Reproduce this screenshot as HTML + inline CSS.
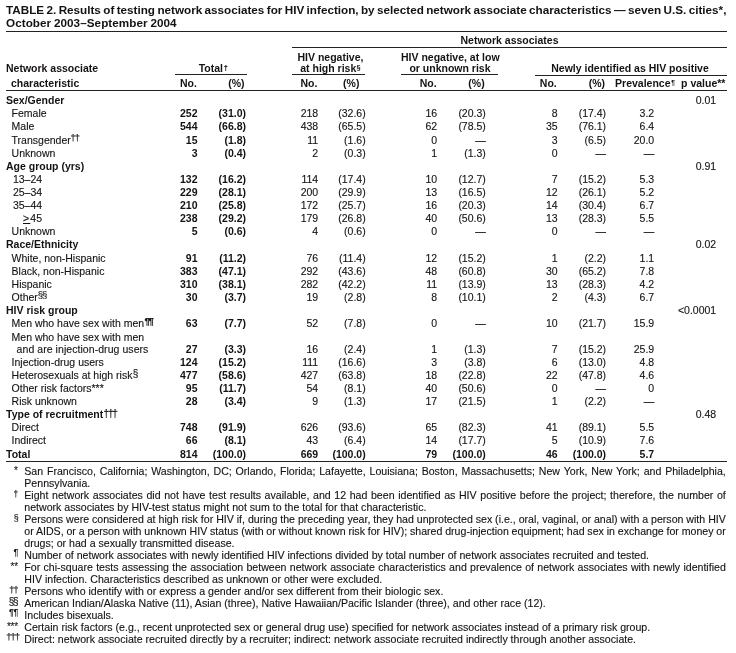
<!DOCTYPE html>
<html><head><meta charset="utf-8"><title>TABLE 2</title>
<style>
html,body{margin:0;padding:0;background:#fff;}
body{width:736px;height:653px;position:relative;overflow:hidden;font-family:"Liberation Sans",sans-serif;color:#151213;-webkit-text-stroke:0.12px #151213;}
.t{position:absolute;white-space:nowrap;line-height:12.0px;font-size:10.5px;}
.j{text-align:justify;text-align-last:justify;white-space:normal;word-spacing:-1.2px;height:12px;overflow:hidden;}
.r{position:absolute;}
#w{position:absolute;left:0;top:0;width:736px;height:653px;will-change:transform;}
</style></head><body><div id="w">
<span class="t" style="top:3.65px;font-size:11.7px;left:6.00px;font-weight:bold;-webkit-text-stroke:0;word-spacing:-0.85px;">TABLE 2. Results of testing network associates for HIV infection, by selected network associate characteristics — seven U.S. cities*,</span>
<span class="t" style="top:16.65px;font-size:11.7px;left:6.00px;font-weight:bold;-webkit-text-stroke:0;letter-spacing:0.06px;word-spacing:-0.6px;">October 2003–September 2004</span>
<div class="r" style="left:6.00px;top:31.00px;width:721.00px;height:1.0px;background:#222"></div>
<div class="r" style="left:292.00px;top:47.00px;width:435.00px;height:1.0px;background:#222"></div>
<div class="r" style="left:175.00px;top:74.00px;width:72.00px;height:1.0px;background:#222"></div>
<div class="r" style="left:292.00px;top:74.00px;width:73.00px;height:1.0px;background:#222"></div>
<div class="r" style="left:401.00px;top:74.00px;width:96.50px;height:1.0px;background:#222"></div>
<div class="r" style="left:535.00px;top:75.00px;width:192.00px;height:1.0px;background:#222"></div>
<div class="r" style="left:6.00px;top:90.00px;width:721.00px;height:1.0px;background:#222"></div>
<div class="r" style="left:6.00px;top:461.00px;width:721.00px;height:1.0px;background:#222"></div>
<span class="t" style="top:34.26px;font-size:10.5px;left:309.50px;width:400px;text-align:center;font-weight:bold;-webkit-text-stroke:0;">Network associates</span>
<span class="t" style="top:62.06px;font-size:10.5px;left:6.00px;font-weight:bold;-webkit-text-stroke:0;">Network associate</span>
<span class="t" style="top:76.66px;font-size:10.5px;left:11.00px;font-weight:bold;-webkit-text-stroke:0;">characteristic</span>
<span class="t" style="top:62.46px;font-size:10.5px;left:13.30px;width:400px;text-align:center;font-weight:bold;-webkit-text-stroke:0;">Total<span style="font-size:7.2px;position:relative;top:-2.2px;letter-spacing:0px;margin-left:0.8px;font-weight:bold;-webkit-text-stroke:0.18px #1c1c1c;">†</span></span>
<span class="t" style="top:50.76px;font-size:10.5px;left:130.50px;width:400px;text-align:center;font-weight:bold;-webkit-text-stroke:0;">HIV negative,</span>
<span class="t" style="top:62.46px;font-size:10.5px;left:130.50px;width:400px;text-align:center;font-weight:bold;-webkit-text-stroke:0;">at high risk<span style="font-size:7.4px;position:relative;top:-2.2px;letter-spacing:0px;margin-left:0.3px;font-weight:bold;">§</span></span>
<span class="t" style="top:50.76px;font-size:10.5px;left:250.30px;width:400px;text-align:center;font-weight:bold;-webkit-text-stroke:0;">HIV negative, at low</span>
<span class="t" style="top:62.46px;font-size:10.5px;left:250.00px;width:400px;text-align:center;font-weight:bold;-webkit-text-stroke:0;">or unknown risk</span>
<span class="t" style="top:62.46px;font-size:10.5px;left:430.00px;width:400px;text-align:center;font-weight:bold;-webkit-text-stroke:0;">Newly identified as HIV positive</span>
<span class="t" style="top:77.36px;font-size:10.5px;left:180.00px;font-weight:bold;-webkit-text-stroke:0;">No.</span>
<span class="t" style="top:77.36px;font-size:10.5px;right:491.50px;font-weight:bold;-webkit-text-stroke:0;">(%)</span>
<span class="t" style="top:77.36px;font-size:10.5px;left:300.40px;font-weight:bold;-webkit-text-stroke:0;">No.</span>
<span class="t" style="top:77.36px;font-size:10.5px;right:376.60px;font-weight:bold;-webkit-text-stroke:0;">(%)</span>
<span class="t" style="top:77.36px;font-size:10.5px;left:419.70px;font-weight:bold;-webkit-text-stroke:0;">No.</span>
<span class="t" style="top:77.36px;font-size:10.5px;right:251.30px;font-weight:bold;-webkit-text-stroke:0;">(%)</span>
<span class="t" style="top:77.36px;font-size:10.5px;left:539.80px;font-weight:bold;-webkit-text-stroke:0;">No.</span>
<span class="t" style="top:77.36px;font-size:10.5px;right:131.00px;font-weight:bold;-webkit-text-stroke:0;">(%)</span>
<span class="t" style="top:77.36px;font-size:10.5px;left:615.10px;font-weight:bold;-webkit-text-stroke:0;">Prevalence<span style="font-size:6.5px;position:relative;top:-2.6px;letter-spacing:0px;margin-left:0.8px;font-weight:bold;">¶</span></span>
<span class="t" style="top:77.36px;font-size:10.5px;right:10.60px;font-weight:bold;-webkit-text-stroke:0;">p value**</span>
<span class="t" style="top:94.36px;font-size:10.5px;left:6.00px;font-weight:bold;-webkit-text-stroke:0;">Sex/Gender</span>
<span class="t" style="top:94.36px;font-size:10.5px;right:19.80px;">0.01</span>
<span class="t" style="top:107.26px;font-size:10.5px;left:11.60px;">Female</span>
<span class="t" style="top:107.26px;font-size:10.5px;right:538.50px;font-weight:bold;-webkit-text-stroke:0;">252</span>
<span class="t" style="top:107.26px;font-size:10.5px;right:490.00px;font-weight:bold;-webkit-text-stroke:0;">(31.0)</span>
<span class="t" style="top:107.26px;font-size:10.5px;right:417.80px;">218</span>
<span class="t" style="top:107.26px;font-size:10.5px;right:370.30px;">(32.6)</span>
<span class="t" style="top:107.26px;font-size:10.5px;right:298.80px;">16</span>
<span class="t" style="top:107.26px;font-size:10.5px;right:250.20px;">(20.3)</span>
<span class="t" style="top:107.26px;font-size:10.5px;right:178.40px;">8</span>
<span class="t" style="top:107.26px;font-size:10.5px;right:129.90px;">(17.4)</span>
<span class="t" style="top:107.26px;font-size:10.5px;right:81.80px;">3.2</span>
<span class="t" style="top:120.26px;font-size:10.5px;left:11.60px;">Male</span>
<span class="t" style="top:120.26px;font-size:10.5px;right:538.50px;font-weight:bold;-webkit-text-stroke:0;">544</span>
<span class="t" style="top:120.26px;font-size:10.5px;right:490.00px;font-weight:bold;-webkit-text-stroke:0;">(66.8)</span>
<span class="t" style="top:120.26px;font-size:10.5px;right:417.80px;">438</span>
<span class="t" style="top:120.26px;font-size:10.5px;right:370.30px;">(65.5)</span>
<span class="t" style="top:120.26px;font-size:10.5px;right:298.80px;">62</span>
<span class="t" style="top:120.26px;font-size:10.5px;right:250.20px;">(78.5)</span>
<span class="t" style="top:120.26px;font-size:10.5px;right:178.40px;">35</span>
<span class="t" style="top:120.26px;font-size:10.5px;right:129.90px;">(76.1)</span>
<span class="t" style="top:120.26px;font-size:10.5px;right:81.80px;">6.4</span>
<span class="t" style="top:133.76px;font-size:10.5px;left:11.60px;">Transgender<span style="font-size:9.3px;position:relative;top:-2.3px;letter-spacing:-0.8px;margin-left:-0.3px;font-weight:normal;-webkit-text-stroke:0.18px #1c1c1c;">††</span></span>
<span class="t" style="top:133.76px;font-size:10.5px;right:538.50px;font-weight:bold;-webkit-text-stroke:0;">15</span>
<span class="t" style="top:133.76px;font-size:10.5px;right:490.00px;font-weight:bold;-webkit-text-stroke:0;">(1.8)</span>
<span class="t" style="top:133.76px;font-size:10.5px;right:417.80px;">11</span>
<span class="t" style="top:133.76px;font-size:10.5px;right:370.30px;">(1.6)</span>
<span class="t" style="top:133.76px;font-size:10.5px;right:298.80px;">0</span>
<span class="t" style="top:133.76px;font-size:10.5px;right:250.20px;">—</span>
<span class="t" style="top:133.76px;font-size:10.5px;right:178.40px;">3</span>
<span class="t" style="top:133.76px;font-size:10.5px;right:129.90px;">(6.5)</span>
<span class="t" style="top:133.76px;font-size:10.5px;right:81.80px;">20.0</span>
<span class="t" style="top:146.56px;font-size:10.5px;left:11.60px;">Unknown</span>
<span class="t" style="top:146.56px;font-size:10.5px;right:538.50px;font-weight:bold;-webkit-text-stroke:0;">3</span>
<span class="t" style="top:146.56px;font-size:10.5px;right:490.00px;font-weight:bold;-webkit-text-stroke:0;">(0.4)</span>
<span class="t" style="top:146.56px;font-size:10.5px;right:417.80px;">2</span>
<span class="t" style="top:146.56px;font-size:10.5px;right:370.30px;">(0.3)</span>
<span class="t" style="top:146.56px;font-size:10.5px;right:298.80px;">1</span>
<span class="t" style="top:146.56px;font-size:10.5px;right:250.20px;">(1.3)</span>
<span class="t" style="top:146.56px;font-size:10.5px;right:178.40px;">0</span>
<span class="t" style="top:146.56px;font-size:10.5px;right:129.90px;">—</span>
<span class="t" style="top:146.56px;font-size:10.5px;right:81.80px;">—</span>
<span class="t" style="top:159.76px;font-size:10.5px;left:6.00px;font-weight:bold;-webkit-text-stroke:0;">Age group (yrs)</span>
<span class="t" style="top:159.76px;font-size:10.5px;right:19.80px;">0.91</span>
<span class="t" style="top:172.96px;font-size:10.5px;left:12.90px;">13–24</span>
<span class="t" style="top:172.96px;font-size:10.5px;right:538.50px;font-weight:bold;-webkit-text-stroke:0;">132</span>
<span class="t" style="top:172.96px;font-size:10.5px;right:490.00px;font-weight:bold;-webkit-text-stroke:0;">(16.2)</span>
<span class="t" style="top:172.96px;font-size:10.5px;right:417.80px;">114</span>
<span class="t" style="top:172.96px;font-size:10.5px;right:370.30px;">(17.4)</span>
<span class="t" style="top:172.96px;font-size:10.5px;right:298.80px;">10</span>
<span class="t" style="top:172.96px;font-size:10.5px;right:250.20px;">(12.7)</span>
<span class="t" style="top:172.96px;font-size:10.5px;right:178.40px;">7</span>
<span class="t" style="top:172.96px;font-size:10.5px;right:129.90px;">(15.2)</span>
<span class="t" style="top:172.96px;font-size:10.5px;right:81.80px;">5.3</span>
<span class="t" style="top:186.06px;font-size:10.5px;left:12.90px;">25–34</span>
<span class="t" style="top:186.06px;font-size:10.5px;right:538.50px;font-weight:bold;-webkit-text-stroke:0;">229</span>
<span class="t" style="top:186.06px;font-size:10.5px;right:490.00px;font-weight:bold;-webkit-text-stroke:0;">(28.1)</span>
<span class="t" style="top:186.06px;font-size:10.5px;right:417.80px;">200</span>
<span class="t" style="top:186.06px;font-size:10.5px;right:370.30px;">(29.9)</span>
<span class="t" style="top:186.06px;font-size:10.5px;right:298.80px;">13</span>
<span class="t" style="top:186.06px;font-size:10.5px;right:250.20px;">(16.5)</span>
<span class="t" style="top:186.06px;font-size:10.5px;right:178.40px;">12</span>
<span class="t" style="top:186.06px;font-size:10.5px;right:129.90px;">(26.1)</span>
<span class="t" style="top:186.06px;font-size:10.5px;right:81.80px;">5.2</span>
<span class="t" style="top:199.16px;font-size:10.5px;left:12.90px;">35–44</span>
<span class="t" style="top:199.16px;font-size:10.5px;right:538.50px;font-weight:bold;-webkit-text-stroke:0;">210</span>
<span class="t" style="top:199.16px;font-size:10.5px;right:490.00px;font-weight:bold;-webkit-text-stroke:0;">(25.8)</span>
<span class="t" style="top:199.16px;font-size:10.5px;right:417.80px;">172</span>
<span class="t" style="top:199.16px;font-size:10.5px;right:370.30px;">(25.7)</span>
<span class="t" style="top:199.16px;font-size:10.5px;right:298.80px;">16</span>
<span class="t" style="top:199.16px;font-size:10.5px;right:250.20px;">(20.3)</span>
<span class="t" style="top:199.16px;font-size:10.5px;right:178.40px;">14</span>
<span class="t" style="top:199.16px;font-size:10.5px;right:129.90px;">(30.4)</span>
<span class="t" style="top:199.16px;font-size:10.5px;right:81.80px;">6.7</span>
<span class="t" style="top:212.26px;font-size:10.5px;left:23.00px;"><span style="text-decoration:underline;letter-spacing:1.2px">&gt;</span>45</span>
<span class="t" style="top:212.26px;font-size:10.5px;right:538.50px;font-weight:bold;-webkit-text-stroke:0;">238</span>
<span class="t" style="top:212.26px;font-size:10.5px;right:490.00px;font-weight:bold;-webkit-text-stroke:0;">(29.2)</span>
<span class="t" style="top:212.26px;font-size:10.5px;right:417.80px;">179</span>
<span class="t" style="top:212.26px;font-size:10.5px;right:370.30px;">(26.8)</span>
<span class="t" style="top:212.26px;font-size:10.5px;right:298.80px;">40</span>
<span class="t" style="top:212.26px;font-size:10.5px;right:250.20px;">(50.6)</span>
<span class="t" style="top:212.26px;font-size:10.5px;right:178.40px;">13</span>
<span class="t" style="top:212.26px;font-size:10.5px;right:129.90px;">(28.3)</span>
<span class="t" style="top:212.26px;font-size:10.5px;right:81.80px;">5.5</span>
<span class="t" style="top:225.36px;font-size:10.5px;left:11.60px;">Unknown</span>
<span class="t" style="top:225.36px;font-size:10.5px;right:538.50px;font-weight:bold;-webkit-text-stroke:0;">5</span>
<span class="t" style="top:225.36px;font-size:10.5px;right:490.00px;font-weight:bold;-webkit-text-stroke:0;">(0.6)</span>
<span class="t" style="top:225.36px;font-size:10.5px;right:417.80px;">4</span>
<span class="t" style="top:225.36px;font-size:10.5px;right:370.30px;">(0.6)</span>
<span class="t" style="top:225.36px;font-size:10.5px;right:298.80px;">0</span>
<span class="t" style="top:225.36px;font-size:10.5px;right:250.20px;">—</span>
<span class="t" style="top:225.36px;font-size:10.5px;right:178.40px;">0</span>
<span class="t" style="top:225.36px;font-size:10.5px;right:129.90px;">—</span>
<span class="t" style="top:225.36px;font-size:10.5px;right:81.80px;">—</span>
<span class="t" style="top:238.46px;font-size:10.5px;left:6.00px;font-weight:bold;-webkit-text-stroke:0;">Race/Ethnicity</span>
<span class="t" style="top:238.46px;font-size:10.5px;right:19.80px;">0.02</span>
<span class="t" style="top:251.56px;font-size:10.5px;left:11.60px;">White, non-Hispanic</span>
<span class="t" style="top:251.56px;font-size:10.5px;right:538.50px;font-weight:bold;-webkit-text-stroke:0;">91</span>
<span class="t" style="top:251.56px;font-size:10.5px;right:490.00px;font-weight:bold;-webkit-text-stroke:0;">(11.2)</span>
<span class="t" style="top:251.56px;font-size:10.5px;right:417.80px;">76</span>
<span class="t" style="top:251.56px;font-size:10.5px;right:370.30px;">(11.4)</span>
<span class="t" style="top:251.56px;font-size:10.5px;right:298.80px;">12</span>
<span class="t" style="top:251.56px;font-size:10.5px;right:250.20px;">(15.2)</span>
<span class="t" style="top:251.56px;font-size:10.5px;right:178.40px;">1</span>
<span class="t" style="top:251.56px;font-size:10.5px;right:129.90px;">(2.2)</span>
<span class="t" style="top:251.56px;font-size:10.5px;right:81.80px;">1.1</span>
<span class="t" style="top:264.66px;font-size:10.5px;left:11.60px;">Black, non-Hispanic</span>
<span class="t" style="top:264.66px;font-size:10.5px;right:538.50px;font-weight:bold;-webkit-text-stroke:0;">383</span>
<span class="t" style="top:264.66px;font-size:10.5px;right:490.00px;font-weight:bold;-webkit-text-stroke:0;">(47.1)</span>
<span class="t" style="top:264.66px;font-size:10.5px;right:417.80px;">292</span>
<span class="t" style="top:264.66px;font-size:10.5px;right:370.30px;">(43.6)</span>
<span class="t" style="top:264.66px;font-size:10.5px;right:298.80px;">48</span>
<span class="t" style="top:264.66px;font-size:10.5px;right:250.20px;">(60.8)</span>
<span class="t" style="top:264.66px;font-size:10.5px;right:178.40px;">30</span>
<span class="t" style="top:264.66px;font-size:10.5px;right:129.90px;">(65.2)</span>
<span class="t" style="top:264.66px;font-size:10.5px;right:81.80px;">7.8</span>
<span class="t" style="top:277.76px;font-size:10.5px;left:11.60px;">Hispanic</span>
<span class="t" style="top:277.76px;font-size:10.5px;right:538.50px;font-weight:bold;-webkit-text-stroke:0;">310</span>
<span class="t" style="top:277.76px;font-size:10.5px;right:490.00px;font-weight:bold;-webkit-text-stroke:0;">(38.1)</span>
<span class="t" style="top:277.76px;font-size:10.5px;right:417.80px;">282</span>
<span class="t" style="top:277.76px;font-size:10.5px;right:370.30px;">(42.2)</span>
<span class="t" style="top:277.76px;font-size:10.5px;right:298.80px;">11</span>
<span class="t" style="top:277.76px;font-size:10.5px;right:250.20px;">(13.9)</span>
<span class="t" style="top:277.76px;font-size:10.5px;right:178.40px;">13</span>
<span class="t" style="top:277.76px;font-size:10.5px;right:129.90px;">(28.3)</span>
<span class="t" style="top:277.76px;font-size:10.5px;right:81.80px;">4.2</span>
<span class="t" style="top:290.86px;font-size:10.5px;left:11.60px;">Other<span style="font-size:9.5px;position:relative;top:-2.4px;letter-spacing:-1.2px;margin-left:0px;font-weight:normal;">§§</span></span>
<span class="t" style="top:290.86px;font-size:10.5px;right:538.50px;font-weight:bold;-webkit-text-stroke:0;">30</span>
<span class="t" style="top:290.86px;font-size:10.5px;right:490.00px;font-weight:bold;-webkit-text-stroke:0;">(3.7)</span>
<span class="t" style="top:290.86px;font-size:10.5px;right:417.80px;">19</span>
<span class="t" style="top:290.86px;font-size:10.5px;right:370.30px;">(2.8)</span>
<span class="t" style="top:290.86px;font-size:10.5px;right:298.80px;">8</span>
<span class="t" style="top:290.86px;font-size:10.5px;right:250.20px;">(10.1)</span>
<span class="t" style="top:290.86px;font-size:10.5px;right:178.40px;">2</span>
<span class="t" style="top:290.86px;font-size:10.5px;right:129.90px;">(4.3)</span>
<span class="t" style="top:290.86px;font-size:10.5px;right:81.80px;">6.7</span>
<span class="t" style="top:304.06px;font-size:10.5px;left:6.00px;font-weight:bold;-webkit-text-stroke:0;">HIV risk group</span>
<span class="t" style="top:304.06px;font-size:10.5px;right:19.80px;">&lt;0.0001</span>
<span class="t" style="top:317.16px;font-size:10.5px;left:11.60px;">Men who have sex with men<span style="font-size:9.8px;position:relative;top:-3.0px;letter-spacing:-1.3px;margin-left:0.3px;font-weight:bold;">¶¶</span></span>
<span class="t" style="top:317.16px;font-size:10.5px;right:538.50px;font-weight:bold;-webkit-text-stroke:0;">63</span>
<span class="t" style="top:317.16px;font-size:10.5px;right:490.00px;font-weight:bold;-webkit-text-stroke:0;">(7.7)</span>
<span class="t" style="top:317.16px;font-size:10.5px;right:417.80px;">52</span>
<span class="t" style="top:317.16px;font-size:10.5px;right:370.30px;">(7.8)</span>
<span class="t" style="top:317.16px;font-size:10.5px;right:298.80px;">0</span>
<span class="t" style="top:317.16px;font-size:10.5px;right:250.20px;">—</span>
<span class="t" style="top:317.16px;font-size:10.5px;right:178.40px;">10</span>
<span class="t" style="top:317.16px;font-size:10.5px;right:129.90px;">(21.7)</span>
<span class="t" style="top:317.16px;font-size:10.5px;right:81.80px;">15.9</span>
<span class="t" style="top:331.36px;font-size:10.5px;left:11.60px;">Men who have sex with men</span>
<span class="t" style="top:343.16px;font-size:10.5px;left:16.60px;letter-spacing:0.06px;">and are injection-drug users</span>
<span class="t" style="top:343.16px;font-size:10.5px;right:538.50px;font-weight:bold;-webkit-text-stroke:0;">27</span>
<span class="t" style="top:343.16px;font-size:10.5px;right:490.00px;font-weight:bold;-webkit-text-stroke:0;">(3.3)</span>
<span class="t" style="top:343.16px;font-size:10.5px;right:417.80px;">16</span>
<span class="t" style="top:343.16px;font-size:10.5px;right:370.30px;">(2.4)</span>
<span class="t" style="top:343.16px;font-size:10.5px;right:298.80px;">1</span>
<span class="t" style="top:343.16px;font-size:10.5px;right:250.20px;">(1.3)</span>
<span class="t" style="top:343.16px;font-size:10.5px;right:178.40px;">7</span>
<span class="t" style="top:343.16px;font-size:10.5px;right:129.90px;">(15.2)</span>
<span class="t" style="top:343.16px;font-size:10.5px;right:81.80px;">25.9</span>
<span class="t" style="top:355.86px;font-size:10.5px;left:11.60px;">Injection-drug users</span>
<span class="t" style="top:355.86px;font-size:10.5px;right:538.50px;font-weight:bold;-webkit-text-stroke:0;">124</span>
<span class="t" style="top:355.86px;font-size:10.5px;right:490.00px;font-weight:bold;-webkit-text-stroke:0;">(15.2)</span>
<span class="t" style="top:355.86px;font-size:10.5px;right:417.80px;">111</span>
<span class="t" style="top:355.86px;font-size:10.5px;right:370.30px;">(16.6)</span>
<span class="t" style="top:355.86px;font-size:10.5px;right:298.80px;">3</span>
<span class="t" style="top:355.86px;font-size:10.5px;right:250.20px;">(3.8)</span>
<span class="t" style="top:355.86px;font-size:10.5px;right:178.40px;">6</span>
<span class="t" style="top:355.86px;font-size:10.5px;right:129.90px;">(13.0)</span>
<span class="t" style="top:355.86px;font-size:10.5px;right:81.80px;">4.8</span>
<span class="t" style="top:368.86px;font-size:10.5px;left:11.60px;">Heterosexuals at high risk<span style="font-size:10px;position:relative;top:-2.1px;letter-spacing:0px;margin-left:0.3px;font-weight:normal;">§</span></span>
<span class="t" style="top:368.86px;font-size:10.5px;right:538.50px;font-weight:bold;-webkit-text-stroke:0;">477</span>
<span class="t" style="top:368.86px;font-size:10.5px;right:490.00px;font-weight:bold;-webkit-text-stroke:0;">(58.6)</span>
<span class="t" style="top:368.86px;font-size:10.5px;right:417.80px;">427</span>
<span class="t" style="top:368.86px;font-size:10.5px;right:370.30px;">(63.8)</span>
<span class="t" style="top:368.86px;font-size:10.5px;right:298.80px;">18</span>
<span class="t" style="top:368.86px;font-size:10.5px;right:250.20px;">(22.8)</span>
<span class="t" style="top:368.86px;font-size:10.5px;right:178.40px;">22</span>
<span class="t" style="top:368.86px;font-size:10.5px;right:129.90px;">(47.8)</span>
<span class="t" style="top:368.86px;font-size:10.5px;right:81.80px;">4.6</span>
<span class="t" style="top:381.86px;font-size:10.5px;left:11.60px;">Other risk factors***</span>
<span class="t" style="top:381.86px;font-size:10.5px;right:538.50px;font-weight:bold;-webkit-text-stroke:0;">95</span>
<span class="t" style="top:381.86px;font-size:10.5px;right:490.00px;font-weight:bold;-webkit-text-stroke:0;">(11.7)</span>
<span class="t" style="top:381.86px;font-size:10.5px;right:417.80px;">54</span>
<span class="t" style="top:381.86px;font-size:10.5px;right:370.30px;">(8.1)</span>
<span class="t" style="top:381.86px;font-size:10.5px;right:298.80px;">40</span>
<span class="t" style="top:381.86px;font-size:10.5px;right:250.20px;">(50.6)</span>
<span class="t" style="top:381.86px;font-size:10.5px;right:178.40px;">0</span>
<span class="t" style="top:381.86px;font-size:10.5px;right:129.90px;">—</span>
<span class="t" style="top:381.86px;font-size:10.5px;right:81.80px;">0</span>
<span class="t" style="top:394.86px;font-size:10.5px;left:11.60px;">Risk unknown</span>
<span class="t" style="top:394.86px;font-size:10.5px;right:538.50px;font-weight:bold;-webkit-text-stroke:0;">28</span>
<span class="t" style="top:394.86px;font-size:10.5px;right:490.00px;font-weight:bold;-webkit-text-stroke:0;">(3.4)</span>
<span class="t" style="top:394.86px;font-size:10.5px;right:417.80px;">9</span>
<span class="t" style="top:394.86px;font-size:10.5px;right:370.30px;">(1.3)</span>
<span class="t" style="top:394.86px;font-size:10.5px;right:298.80px;">17</span>
<span class="t" style="top:394.86px;font-size:10.5px;right:250.20px;">(21.5)</span>
<span class="t" style="top:394.86px;font-size:10.5px;right:178.40px;">1</span>
<span class="t" style="top:394.86px;font-size:10.5px;right:129.90px;">(2.2)</span>
<span class="t" style="top:394.86px;font-size:10.5px;right:81.80px;">—</span>
<span class="t" style="top:407.96px;font-size:10.5px;left:6.00px;font-weight:bold;-webkit-text-stroke:0;">Type of recruitment<span style="font-size:10px;position:relative;top:-1.0px;letter-spacing:-1.2px;margin-left:0.3px;font-weight:normal;-webkit-text-stroke:0.18px #1c1c1c;">†††</span></span>
<span class="t" style="top:407.96px;font-size:10.5px;right:19.80px;">0.48</span>
<span class="t" style="top:421.06px;font-size:10.5px;left:11.60px;">Direct</span>
<span class="t" style="top:421.06px;font-size:10.5px;right:538.50px;font-weight:bold;-webkit-text-stroke:0;">748</span>
<span class="t" style="top:421.06px;font-size:10.5px;right:490.00px;font-weight:bold;-webkit-text-stroke:0;">(91.9)</span>
<span class="t" style="top:421.06px;font-size:10.5px;right:417.80px;">626</span>
<span class="t" style="top:421.06px;font-size:10.5px;right:370.30px;">(93.6)</span>
<span class="t" style="top:421.06px;font-size:10.5px;right:298.80px;">65</span>
<span class="t" style="top:421.06px;font-size:10.5px;right:250.20px;">(82.3)</span>
<span class="t" style="top:421.06px;font-size:10.5px;right:178.40px;">41</span>
<span class="t" style="top:421.06px;font-size:10.5px;right:129.90px;">(89.1)</span>
<span class="t" style="top:421.06px;font-size:10.5px;right:81.80px;">5.5</span>
<span class="t" style="top:434.16px;font-size:10.5px;left:11.60px;">Indirect</span>
<span class="t" style="top:434.16px;font-size:10.5px;right:538.50px;font-weight:bold;-webkit-text-stroke:0;">66</span>
<span class="t" style="top:434.16px;font-size:10.5px;right:490.00px;font-weight:bold;-webkit-text-stroke:0;">(8.1)</span>
<span class="t" style="top:434.16px;font-size:10.5px;right:417.80px;">43</span>
<span class="t" style="top:434.16px;font-size:10.5px;right:370.30px;">(6.4)</span>
<span class="t" style="top:434.16px;font-size:10.5px;right:298.80px;">14</span>
<span class="t" style="top:434.16px;font-size:10.5px;right:250.20px;">(17.7)</span>
<span class="t" style="top:434.16px;font-size:10.5px;right:178.40px;">5</span>
<span class="t" style="top:434.16px;font-size:10.5px;right:129.90px;">(10.9)</span>
<span class="t" style="top:434.16px;font-size:10.5px;right:81.80px;">7.6</span>
<span class="t" style="top:447.56px;font-size:10.5px;left:6.00px;font-weight:bold;-webkit-text-stroke:0;">Total</span>
<span class="t" style="top:447.56px;font-size:10.5px;right:538.50px;font-weight:bold;-webkit-text-stroke:0;">814</span>
<span class="t" style="top:447.56px;font-size:10.5px;right:490.00px;font-weight:bold;-webkit-text-stroke:0;">(100.0)</span>
<span class="t" style="top:447.56px;font-size:10.5px;right:417.80px;font-weight:bold;-webkit-text-stroke:0;">669</span>
<span class="t" style="top:447.56px;font-size:10.5px;right:370.30px;font-weight:bold;-webkit-text-stroke:0;">(100.0)</span>
<span class="t" style="top:447.56px;font-size:10.5px;right:298.80px;font-weight:bold;-webkit-text-stroke:0;">79</span>
<span class="t" style="top:447.56px;font-size:10.5px;right:250.20px;font-weight:bold;-webkit-text-stroke:0;">(100.0)</span>
<span class="t" style="top:447.56px;font-size:10.5px;right:178.40px;font-weight:bold;-webkit-text-stroke:0;">46</span>
<span class="t" style="top:447.56px;font-size:10.5px;right:129.90px;font-weight:bold;-webkit-text-stroke:0;">(100.0)</span>
<span class="t" style="top:447.56px;font-size:10.5px;right:81.80px;font-weight:bold;-webkit-text-stroke:0;">5.7</span>
<span class="t" style="top:464.94px;font-size:10.0px;right:718.00px;">*</span>
<div class="t j" style="top:464.73px;left:24.3px;width:701.50px;font-size:10.6px">San Francisco, California; Washington, DC; Orlando, Florida; Lafayette, Louisiana; Boston, Massachusetts; New York, New York; and Philadelphia,</div>
<span class="t" style="top:476.83px;font-size:10.6px;left:24.30px;">Pennsylvania.</span>
<span class="t" style="top:487.62px;font-size:8.3px;right:717.80px;-webkit-text-stroke:0.18px #1c1c1c;">†</span>
<div class="t j" style="top:488.93px;left:24.3px;width:701.50px;font-size:10.6px">Eight network associates did not have test results available, and 12 had been identified as HIV positive before the project; therefore, the number of</div>
<span class="t" style="top:501.03px;font-size:10.6px;left:24.30px;">network associates by HIV-test status might not sum to the total for that characteristic.</span>
<span class="t" style="top:512.22px;font-size:8.9px;right:717.40px;">§</span>
<div class="t j" style="top:513.03px;left:24.3px;width:701.50px;font-size:10.6px">Persons were considered at high risk for HIV if, during the preceding year, they had unprotected sex (i.e., oral, vaginal, or anal) with a person with HIV</div>
<div class="t j" style="top:525.03px;left:24.3px;width:701.50px;font-size:10.6px">or AIDS, or a person with unknown HIV status (with or without known risk for HIV); shared drug-injection equipment; had sex in exchange for money or</div>
<span class="t" style="top:537.03px;font-size:10.6px;left:24.30px;">drugs; or had a sexually transmitted disease.</span>
<span class="t" style="top:546.25px;font-size:8.8px;right:717.60px;font-weight:bold;-webkit-text-stroke:0;">¶</span>
<span class="t" style="top:549.03px;font-size:10.6px;left:24.30px;">Number of network associates with newly identified HIV infections divided by total number of network associates recruited and tested.</span>
<span class="t" style="top:561.34px;font-size:10.0px;right:717.80px;">**</span>
<div class="t j" style="top:561.13px;left:24.3px;width:701.50px;font-size:10.6px">For chi-square tests assessing the association between network associate characteristics and prevalence of network associates with newly identified</div>
<span class="t" style="top:573.23px;font-size:10.6px;left:24.30px;">HIV infection. Characteristics described as unknown or other were excluded.</span>
<span class="t" style="top:583.95px;font-size:9.1px;right:718.40px;letter-spacing:-0.85px;-webkit-text-stroke:0.18px #1c1c1c;">††</span>
<span class="t" style="top:585.23px;font-size:10.6px;left:24.30px;">Persons who identify with or express a gender and/or sex different from their biologic sex.</span>
<span class="t" style="top:595.73px;font-size:10.0px;right:718.70px;letter-spacing:-1.25px;">§§</span>
<span class="t" style="top:597.23px;font-size:10.6px;left:24.30px;">American Indian/Alaska Native (11), Asian (three), Native Hawaiian/Pacific Islander (three), and other race (12).</span>
<span class="t" style="top:606.09px;font-size:8.7px;right:718.10px;font-weight:bold;-webkit-text-stroke:0;letter-spacing:-0.4px;">¶¶</span>
<span class="t" style="top:608.93px;font-size:10.6px;left:24.30px;">Includes bisexuals.</span>
<span class="t" style="top:621.34px;font-size:10.0px;right:717.90px;letter-spacing:-0.15px;">***</span>
<span class="t" style="top:621.13px;font-size:10.6px;left:24.30px;">Certain risk factors (e.g., recent unprotected sex or general drug use) specified for network associates instead of a primary risk group.</span>
<span class="t" style="top:631.27px;font-size:9.6px;right:716.80px;letter-spacing:-1.0px;-webkit-text-stroke:0.18px #1c1c1c;">†††</span>
<span class="t" style="top:633.03px;font-size:10.6px;left:24.30px;">Direct: network associate recruited directly by a recruiter; indirect: network associate recruited indirectly through another associate.</span>
</div></body></html>
